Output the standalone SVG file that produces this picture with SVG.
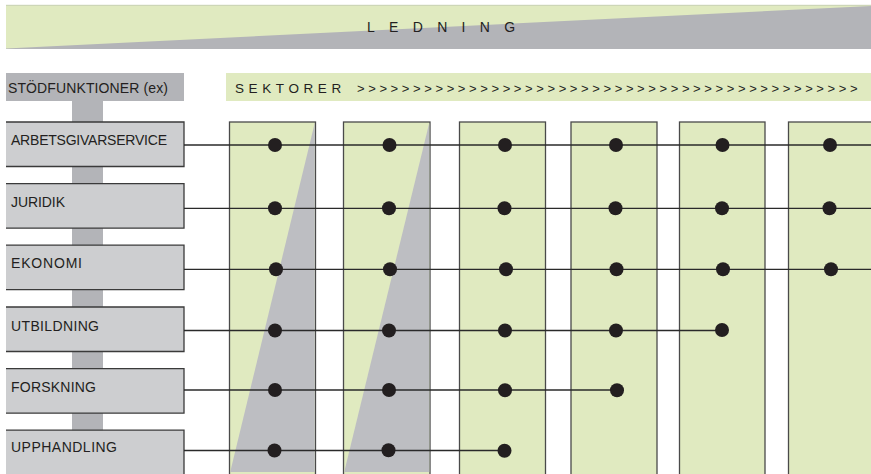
<svg xmlns="http://www.w3.org/2000/svg" width="871" height="474" viewBox="0 0 871 474">
<style>
text{font-family:"Liberation Sans",Arial,sans-serif;fill:#231f20}
.lbl{font-size:14px}
.box{fill:#cdced0}
.edge{fill:none;stroke:#3a3a3a;stroke-width:1.3}
.col{fill:#e0eac0;stroke:#4a4a4a;stroke-width:1.3}
.tri{fill:#bdbec2}
.ln{stroke:#2a2a2a;stroke-width:1.3;fill:none}
.dot{fill:#231f20}
</style>
<rect width="871" height="474" fill="#ffffff"/>
<g id="ledning">
<rect x="6" y="5" width="865" height="44" fill="#e0eac0"/>
<line x1="6" y1="5.3" x2="871" y2="5.3" stroke="#c9d1b4" stroke-width="1"/>
<polygon points="6,48.5 871,6 871,49 6,49" fill="#b3b4b8"/>
<text x="367" y="32" font-size="14" letter-spacing="14.3">LEDNING</text>
</g>
<g id="stodfunktioner-header">
<rect x="6" y="73" width="178" height="28" fill="#b3b4b8"/>
<text class="lbl" x="8" y="92.5" textLength="160" lengthAdjust="spacing">STÖDFUNKTIONER (ex)</text>
</g>
<g id="sektorer-header">
<rect x="226" y="73" width="645" height="28" fill="#e0eac0"/>
<text x="235" y="92.5" font-size="13.5" letter-spacing="4.6">SEKTORER</text>
<text x="357" y="92.5" font-size="13">&gt; &gt; &gt; &gt; &gt; &gt; &gt; &gt; &gt; &gt; &gt; &gt; &gt; &gt; &gt; &gt; &gt; &gt; &gt; &gt; &gt; &gt; &gt; &gt; &gt; &gt; &gt; &gt; &gt; &gt; &gt; &gt; &gt; &gt; &gt; &gt; &gt; &gt; &gt; &gt; &gt; &gt; &gt; &gt; &gt;</text>
</g>
<g id="spine">
<rect x="72" y="101" width="31" height="373" fill="#b3b4b8"/>
</g>
<g id="box-arbetsgivarservice">
<rect class="box" x="6" y="122" width="178" height="44.5"/>
<polyline class="edge" points="6,122 184,122 184,166.5 6,166.5"/>
<text class="lbl" x="11" y="144.5" textLength="156" lengthAdjust="spacing">ARBETSGIVARSERVICE</text>
</g>
<g id="box-juridik">
<rect class="box" x="6" y="183.6" width="178" height="44.5"/>
<polyline class="edge" points="6,183.6 184,183.6 184,228.1 6,228.1"/>
<text class="lbl" x="11" y="206.5" textLength="54" lengthAdjust="spacing">JURIDIK</text>
</g>
<g id="box-ekonomi">
<rect class="box" x="6" y="245.2" width="178" height="44.5"/>
<polyline class="edge" points="6,245.2 184,245.2 184,289.7 6,289.7"/>
<text class="lbl" x="11" y="268.3" textLength="71" lengthAdjust="spacing">EKONOMI</text>
</g>
<g id="box-utbildning">
<rect class="box" x="6" y="307" width="178" height="44.5"/>
<polyline class="edge" points="6,307 184,307 184,351.5 6,351.5"/>
<text class="lbl" x="11" y="330.5" textLength="88" lengthAdjust="spacing">UTBILDNING</text>
</g>
<g id="box-forskning">
<rect class="box" x="6" y="368.6" width="178" height="44.5"/>
<polyline class="edge" points="6,368.6 184,368.6 184,413.1 6,413.1"/>
<text class="lbl" x="11" y="391.7" textLength="85" lengthAdjust="spacing">FORSKNING</text>
</g>
<g id="box-upphandling">
<rect class="box" x="6" y="430.2" width="178" height="50"/>
<polyline class="edge" points="6,430.2 184,430.2 184,480"/>
<text class="lbl" x="11" y="452.3" textLength="106" lengthAdjust="spacing">UPPHANDLING</text>
</g>
<g id="sektor-1">
<rect class="col" x="229.5" y="122" width="86" height="360"/>
<polygon class="tri" points="314.8,122.8 314.8,472 230.2,472"/>
</g>
<g id="sektor-2">
<rect class="col" x="343.5" y="122" width="86.5" height="360"/>
<polygon class="tri" points="429.3,122.8 429.3,472 344.2,472"/>
</g>
<g id="sektor-3">
<rect class="col" x="459.5" y="122" width="86" height="360"/>
</g>
<g id="sektor-4">
<rect class="col" x="571" y="122" width="86" height="360"/>
</g>
<g id="sektor-5">
<rect class="col" x="679.5" y="122" width="85.5" height="360"/>
</g>
<g id="sektor-6">
<rect class="col" x="788.5" y="122" width="90" height="360"/>
</g>
<g id="connectors">
<line class="ln" x1="184" y1="145" x2="871" y2="145"/>
<line class="ln" x1="184" y1="208.3" x2="871" y2="208.3"/>
<line class="ln" x1="184" y1="269.3" x2="871" y2="269.3"/>
<line class="ln" x1="184" y1="330.5" x2="722" y2="330.5"/>
<line class="ln" x1="184" y1="390" x2="617" y2="390"/>
<line class="ln" x1="184" y1="450.5" x2="505" y2="450.5"/>
<g class="dot">
<circle cx="275" cy="145" r="7"/><circle cx="389.5" cy="145" r="7"/><circle cx="505" cy="145" r="7"/><circle cx="616" cy="145" r="7"/><circle cx="722.5" cy="145" r="7"/><circle cx="830" cy="145" r="7"/>
<circle cx="275" cy="208.3" r="7"/><circle cx="389" cy="208.3" r="7"/><circle cx="504.5" cy="208.3" r="7"/><circle cx="615.5" cy="208.3" r="7"/><circle cx="722" cy="208.3" r="7"/><circle cx="829.5" cy="208.3" r="7"/>
<circle cx="276" cy="269.3" r="7"/><circle cx="390" cy="269.3" r="7"/><circle cx="506" cy="269.3" r="7"/><circle cx="616.5" cy="269.3" r="7"/><circle cx="723" cy="269.3" r="7"/><circle cx="831" cy="269.3" r="7"/>
<circle cx="275" cy="330.5" r="7"/><circle cx="389" cy="330.5" r="7"/><circle cx="505" cy="330.5" r="7"/><circle cx="616" cy="330.5" r="7"/><circle cx="722" cy="330" r="7"/>
<circle cx="275" cy="390" r="7"/><circle cx="389" cy="390" r="7"/><circle cx="505" cy="390.3" r="7"/><circle cx="617" cy="390.3" r="7"/>
<circle cx="274.5" cy="450.5" r="7"/><circle cx="388.5" cy="450.3" r="7"/><circle cx="504.5" cy="450.8" r="7"/>
</g>
</g>
</svg>
